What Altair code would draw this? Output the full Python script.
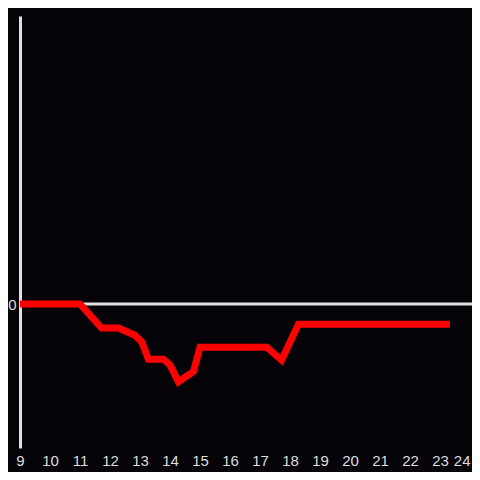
import altair as alt
import pandas as pd

hours = [9, 11, 11.72, 12.28, 12.83, 13.06, 13.28, 13.78, 14.0, 14.28, 14.78, 15.0, 17.22, 17.72, 18.28, 23.33]
values = [0, 0, -0.5, -0.5, -0.65, -0.79, -1.15, -1.15, -1.27, -1.62, -1.41, -0.9, -0.9, -1.17, -0.42, -0.42]
tick_hours = list(range(9, 25))

df = pd.DataFrame({"hour": hours, "value": values})
zero = pd.DataFrame({"value": [0]})

xscale = alt.Scale(domain=[9, 9 + 452 / 30], nice=False, zero=False)
yscale = alt.Scale(domain=[-3, 6], nice=False)

rule = alt.Chart(zero).mark_rule(color="#e0e0e0", strokeWidth=3).encode(
    y=alt.Y("value:Q", scale=yscale)
)

line = alt.Chart(df).mark_line(color="#ff0000", strokeWidth=7, strokeCap="butt", strokeJoin="miter").encode(
    x=alt.X("hour:Q", scale=xscale,
            axis=alt.Axis(title=None, values=tick_hours, domain=False, ticks=False, grid=False,
                          labelColor="#dddddd", labelFontSize=15, labelFont="Liberation Sans",
                          labelPadding=5, labelFlush=False, labelOverlap=False,
                          labelAlign=alt.expr("datum.value == 24 ? 'right' : 'center'"))),
    y=alt.Y("value:Q", scale=yscale,
            axis=alt.Axis(title=None, values=[0], domain=True, domainColor="#e0e0e0", domainWidth=3,
                          ticks=False, grid=False, labelColor="#dddddd", labelFontSize=15,
                          labelFont="Liberation Sans", labelPadding=4)),
)

chart = alt.layer(rule, line).properties(
    width=452, height=432, background="#050307",
    padding={"left": 12, "top": 8, "right": 0, "bottom": 24},
    autosize=alt.AutoSizeParams(type="none"),
).configure_view(stroke=None)

chart.save("out.html", embed_options={"renderer": "svg", "actions": False})
